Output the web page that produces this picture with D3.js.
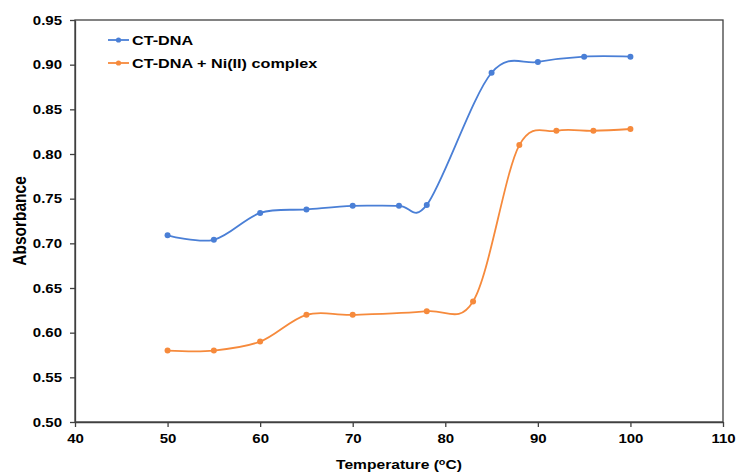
<!DOCTYPE html>
<html>
<head>
<meta charset="utf-8">
<script src="https://cdn.jsdelivr.net/npm/d3@7"></script>
<style>
  body { margin: 0; background: #fff; }
  text { font-family: "Liberation Sans", Arial, sans-serif; font-weight: bold; fill: #000; }
</style>
</head>
<body>
<div id="chart"></div>
<script>
// data
var tempDNA = [50, 55, 60, 65, 70, 75, 78, 85, 90, 95, 100];
var absDNA  = [0.709, 0.704, 0.734, 0.738, 0.742, 0.742, 0.743, 0.891, 0.903, 0.909, 0.909];
var tempNi  = [50, 55, 60, 65, 70, 78, 83, 88, 92, 96, 100];
var absNi   = [0.580, 0.580, 0.590, 0.620, 0.620, 0.624, 0.635, 0.810, 0.826, 0.826, 0.828];
var seriesNames = ["CT-DNA", "CT-DNA + Ni(II) complex"];
var xTicks = [40, 50, 60, 70, 80, 90, 100, 110];
var yTicks = [0.50, 0.55, 0.60, 0.65, 0.70, 0.75, 0.80, 0.85, 0.90, 0.95];

var W = 737, H = 473;
var margin = {top: 20, right: 14, bottom: 51, left: 75};
var colors = ["#4a7fd6", "#f68a3c"];
var stretch = 1.2; // text in the picture is a bit wide

var svg = d3.select("#chart").append("svg")
    .attr("width", W)
    .attr("height", H);

var x = d3.scaleLinear().domain([40, 110]).range([margin.left, W - margin.right]);
var y = d3.scaleLinear().domain([0.50, 0.95]).range([H - margin.bottom, margin.top]);

// plot frame
svg.append("rect")
    .attr("x", x(40))
    .attr("y", y(0.95))
    .attr("width", x(110) - x(40))
    .attr("height", y(0.50) - y(0.95))
    .style("fill", "none")
    .style("stroke", "#404040")
    .style("stroke-width", 1.3);

var xAxis = svg.append("g")
    .attr("transform", "translate(0," + y(0.50) + ")")
    .call(d3.axisBottom(x).tickValues(xTicks).tickSize(5).tickSizeOuter(0).tickFormat(d3.format("d")));
var yAxis = svg.append("g")
    .attr("transform", "translate(" + x(40) + ",0)")
    .call(d3.axisLeft(y).tickValues(yTicks).tickSize(5).tickSizeOuter(0).tickFormat(d3.format(".2f")));

[xAxis, yAxis].forEach(function(g) {
    g.select(".domain").style("stroke", "#404040").style("stroke-width", 1.3);
    g.selectAll(".tick line").style("stroke", "#404040").style("stroke-width", 1.3);
    g.selectAll(".tick text")
        .style("font-family", "'Liberation Sans', Arial, sans-serif")
        .style("font-size", "12.5px")
        .style("font-weight", "bold")
        .style("fill", "#000")
        .attr("transform", "scale(" + stretch + ",1)");
});
xAxis.selectAll(".tick text").attr("y", 10).attr("dy", "0.9em");
yAxis.selectAll(".tick text").attr("x", -13 / stretch);

// axis titles
var xTitle = svg.append("text")
    .attr("transform", "translate(" + ((x(40) + x(110)) / 2) + "," + (H - 4) + ") scale(" + stretch + ",1)")
    .attr("text-anchor", "middle")
    .style("font-size", "13px");
xTitle.append("tspan").text("Temperature (");
xTitle.append("tspan").text("o").attr("dy", -4).style("font-size", "9px");
xTitle.append("tspan").text("C)").attr("dy", 4);

svg.append("text")
    .attr("transform", "translate(26," + ((y(0.5) + y(0.95)) / 2) + ") rotate(-90) scale(1," + stretch + ")")
    .attr("text-anchor", "middle")
    .style("font-size", "15.5px")
    .text("Absorbance");

var line = d3.line()
    .x(function(d) { return x(d[0]); })
    .y(function(d) { return y(d[1]); })
    .curve(d3.curveCatmullRom.alpha(0.1));

var data = [d3.zip(tempDNA, absDNA), d3.zip(tempNi, absNi)];

data.forEach(function(pts, i) {
    svg.append("path")
        .datum(pts)
        .attr("d", line)
        .style("fill", "none")
        .style("stroke", colors[i])
        .style("stroke-width", 1.8);
    svg.selectAll(".dot-" + i)
        .data(pts)
        .enter().append("circle")
        .attr("class", "dot-" + i)
        .attr("cx", function(d) { return x(d[0]); })
        .attr("cy", function(d) { return y(d[1]); })
        .attr("r", 3)
        .style("fill", colors[i]);
});

// legend
var legend = svg.append("g").attr("transform", "translate(108,40)");
seriesNames.forEach(function(name, i) {
    var g = legend.append("g").attr("transform", "translate(0," + (i * 23) + ")");
    g.append("line")
        .attr("x1", 0).attr("x2", 21)
        .style("stroke", colors[i])
        .style("stroke-width", 1.8);
    g.append("circle")
        .attr("cx", 10.5).attr("r", 2.6)
        .style("fill", colors[i]);
    g.append("text")
        .attr("transform", "translate(24,0) scale(" + stretch + ",1)")
        .attr("dy", "0.36em")
        .style("font-size", "13.5px")
        .text(name);
});
</script>
</body>
</html>
